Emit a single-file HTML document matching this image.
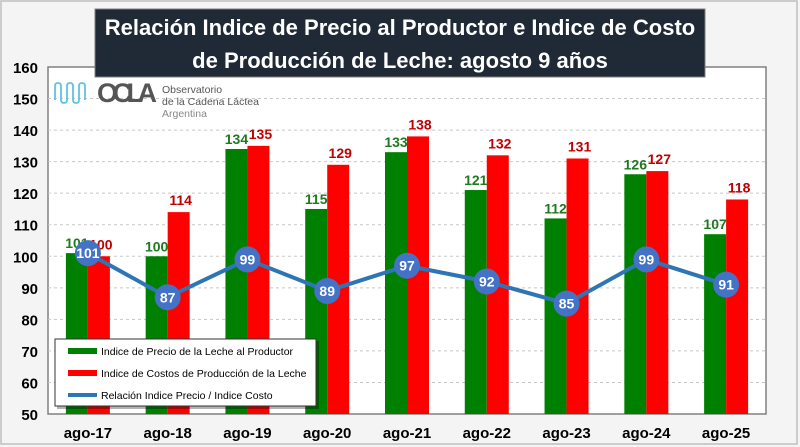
<!DOCTYPE html>
<html><head><meta charset="utf-8"><style>
body{margin:0;background:#fff;}
#wrap{position:relative;width:800px;height:447px;background:#f4f4f4;overflow:hidden;font-family:"Liberation Sans",sans-serif;}
</style></head><body>
<div id="wrap">
<svg id="chart" width="800" height="447"></svg>
</div>
<script>
const categories=["ago-17","ago-18","ago-19","ago-20","ago-21","ago-22","ago-23","ago-24","ago-25"];
const precio=[101,100,134,115,133,121,112,126,107];
const costo=[100,114,135,129,138,132,131,127,118];
const relacion=[101,87,99,89,97,92,85,99,91];
const yTicks=[50,60,70,80,90,100,110,120,130,140,150,160];
const NS="http://www.w3.org/2000/svg";
const svg=document.getElementById('chart');
const L=48,R=766,T=67,B=414,ymin=50,ymax=160;
const cw=(R-L)/categories.length;
function x(i){return L+cw*(i+0.5);}
function y(v){return B-(v-ymin)/(ymax-ymin)*(B-T);}
function el(t,a,p){const e=document.createElementNS(NS,t);for(const k in a)e.setAttribute(k,a[k]);(p||svg).appendChild(e);return e;}
let e;
e=el('rect',{x:1,y:1,width:796,height:443,fill:'#f4f4f4',stroke:'#bfbfbf','stroke-width':1.5});


e=el('rect',{x:L,y:T,width:R-L,height:B-T,fill:'#fff',stroke:'#808080','stroke-width':1.5});


yTicks.forEach(v=>{
 if(v>ymin&&v<ymax){e=el('line',{x1:L,x2:R,y1:y(v),y2:y(v),stroke:'#c8c8c8','stroke-dasharray':'3,3'});
 
 }
 e=el('text',{x:38,y:y(v)+6,'text-anchor':'end','font-size':15,'font-weight':'bold',fill:'#000'});
 e.textContent=v;
 
 
});
const bw=22;
categories.forEach((c,i)=>{
 e=el('rect',{x:x(i)-bw,y:y(precio[i]),width:bw,height:B-y(precio[i]),fill:'#008000'});
 
 
 e=el('rect',{x:x(i),y:y(costo[i]),width:bw,height:B-y(costo[i]),fill:'#ff0000'});
 
 
 e=el('text',{x:x(i)-bw/2,y:y(precio[i])-5,'text-anchor':'middle','font-size':14,'font-weight':'bold',fill:'#1e7a1e'});
 e.textContent=precio[i];
 
 
 e=el('text',{x:x(i)+bw/2+2,y:y(costo[i])-7,'text-anchor':'middle','font-size':14,'font-weight':'bold',fill:'#c00000'});
 e.textContent=costo[i];
 
 
 e=el('text',{x:x(i),y:438,'text-anchor':'middle','font-size':15,'font-weight':'bold',fill:'#000'});
 e.textContent=c;
 
 
});
e=el('polyline',{points:relacion.map((v,i)=>x(i)+','+y(v)).join(' '),fill:'none',stroke:'#2e75b6','stroke-width':4});


relacion.forEach((v,i)=>{
 e=el('circle',{cx:x(i),cy:y(v),r:13,fill:'#4472c4'});
 
 
 e=el('text',{x:x(i),y:y(v)+5,'text-anchor':'middle','font-size':14,'font-weight':'bold',fill:'#fff'});
 e.textContent=v;
 
 
});
// title
e=el('rect',{x:95,y:9,width:610,height:68,fill:'#1f2a36',stroke:'#7f7f7f'});


[["Relación Indice de Precio al Productor e Indice de Costo",35],["de Producción de Leche:  agosto 9 años",68]].forEach((t,k)=>{
 e=el('text',{x:400,y:t[1],'text-anchor':'middle','font-size':22,'font-weight':'bold',fill:'#fff'});
 e.textContent=t[0];
 
 
});
// logo
const g=el('g',{});


el('path',{d:'M55 100 V86 q0-3 3-3 q3 0 3 3 V100 q0 3 3 3 q3 0 3-3 V86 q0-3 3-3 q3 0 3 3 V100 q0 3 3 3 q3 0 3-3 V86 q0-3 3-3 q3 0 3 3 V100',fill:'none',stroke:'#5ec4e0','stroke-width':1.8},g);
e=el('text',{x:97,y:102,'font-size':27,'font-weight':'bold',fill:'#555','textLength':60},g);e.textContent='OCLA';
e=el('text',{x:162,y:93,'font-size':10.5,fill:'#555'},g);e.textContent='Observatorio';
e=el('text',{x:162,y:105,'font-size':10.5,fill:'#555'},g);e.textContent='de la Cadena Láctea';
e=el('text',{x:162,y:117,'font-size':10.5,fill:'#888'},g);e.textContent='Argentina';
// legend
const lg=el('g',{});


el('rect',{x:57,y:341,width:262,height:68,fill:'#000',opacity:0.3},lg);
el('rect',{x:55,y:339,width:261,height:67,fill:'#fff',stroke:'#333'},lg);
const leg=[["Indice de Precio de la Leche al Productor","#008000"],["Indice de Costos de Producción de la Leche","#ff0000"],["Relación Indice Precio / Indice Costo","#2e75b6"]];
leg.forEach((l,k)=>{
 const yy=351+k*22;
 e=el('rect',{x:68,y:yy-(k==2?2:3),width:29,height:k==2?4:6,fill:l[1]},lg);
 
 
 e=el('text',{x:101,y:yy+4,'font-size':10.5,fill:'#000'},lg);
 e.textContent=l[0];
 
 
});
</script>
</body></html>
